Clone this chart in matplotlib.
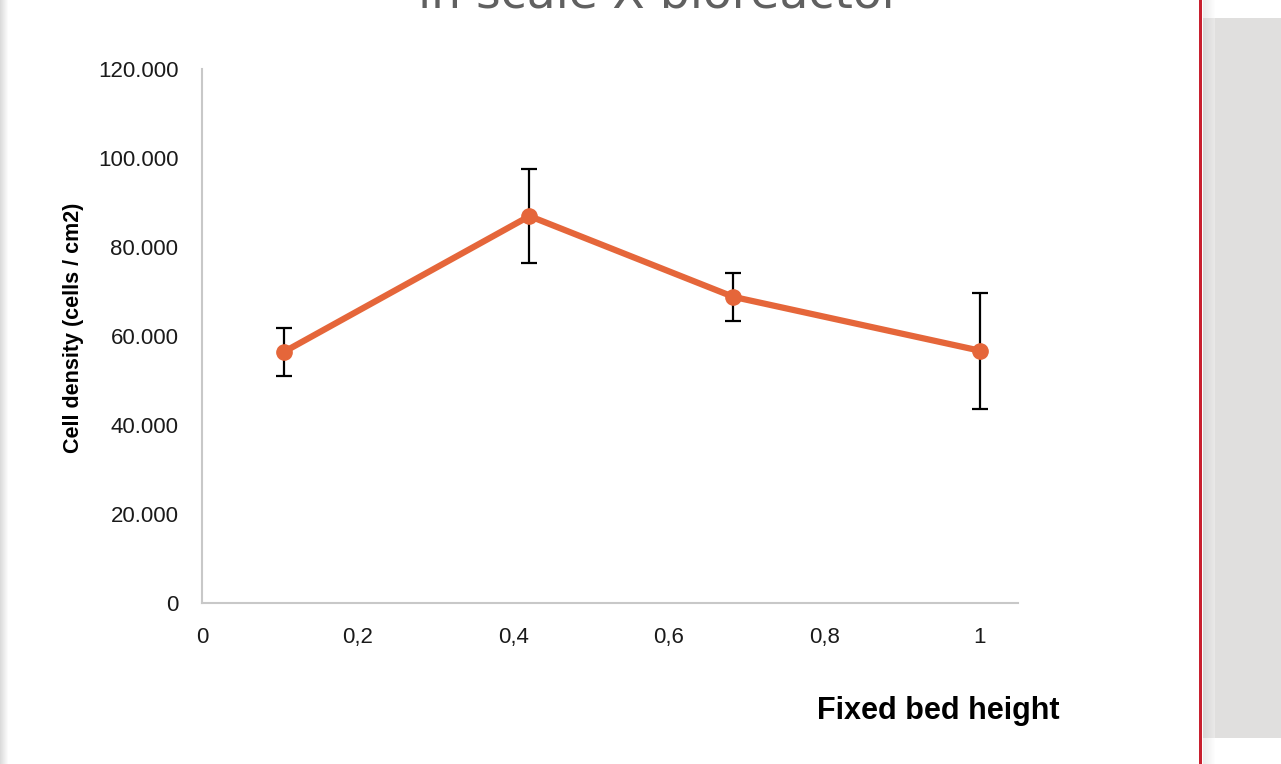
import numpy as np
import matplotlib.pyplot as plt
import matplotlib.ticker as mticker
from matplotlib.patches import Rectangle

# data
bed_height = [0.105, 0.421, 0.683, 1.0]
cell_density = [56400, 86950, 68800, 56700]
density_err = [5300, 10550, 5400, 13000]

y_ticks = [0, 20000, 40000, 60000, 80000, 100000, 120000]
x_ticks = [0, 0.2, 0.4, 0.6, 0.8, 1.0]

W, H = 1281, 764
fig = plt.figure(figsize=(W / 100, H / 100), dpi=100)
fig.patch.set_facecolor('white')

# page decoration: left shadow, red rule, grey side panel
for k in range(9):
    c = 0.86 + 0.14 * k / 8
    fig.patches.append(Rectangle((k / W, 0), 1 / W, 1, transform=fig.transFigure,
                                 facecolor=(c, c, c), edgecolor='none'))
fig.patches.append(Rectangle((1203 / W, 26 / H), (W - 1203) / W, (738 - 18) / H,
                             transform=fig.transFigure, facecolor='#e0dfde', edgecolor='none'))
for k in range(12):
    c = 0.78 + 0.2 * k / 11
    fig.patches.append(Rectangle(((1203 + k) / W, 0), 1 / W, 1, transform=fig.transFigure,
                                 facecolor=(c, c, c), edgecolor='none', alpha=0.35))
fig.patches.append(Rectangle((1198.5 / W, 0), 3.5 / W, 1, transform=fig.transFigure,
                             facecolor='#c8202f', edgecolor='none'))

# title, mostly cut off at the top (as in the source slide)
fig.text(660 / W, 1 - 8 / H, 'in scale-X bioreactor', ha='center', va='baseline',
         fontsize=34, color='#606060', family='DejaVu Sans')

ax = fig.add_axes([202 / W, 1 - 603 / H, (1018 - 202) / W, (603 - 69) / H])
ax.errorbar(bed_height, cell_density, yerr=density_err, color='#e5663a', lw=4.5,
            marker='o', ms=11, ecolor='black', elinewidth=1.6, capsize=6, capthick=1.6,
            zorder=3)

ax.set_xlim(0, 1.049)
ax.set_ylim(0, 120000)
ax.set_xticks(x_ticks)
ax.set_yticks(y_ticks)

tick_font = ['Liberation Sans Narrow', 'Liberation Sans', 'DejaVu Sans']
ax.xaxis.set_major_formatter(mticker.FuncFormatter(
    lambda v, p: ('%g' % v).replace('.', ',')))
ax.yaxis.set_major_formatter(mticker.FuncFormatter(
    lambda v, p: '0' if v == 0 else '{:,.3f}'.format(v / 1000).replace(',', '')))
for lab in ax.get_xticklabels() + ax.get_yticklabels():
    lab.set_family(tick_font)
    lab.set_fontsize(16)
    lab.set_color('#1a1a1a')
ax.tick_params(axis='both', length=0)
ax.tick_params(axis='x', pad=17)
ax.tick_params(axis='y', pad=17)

for s in ['top', 'right']:
    ax.spines[s].set_visible(False)
for s in ['left', 'bottom']:
    ax.spines[s].set_color('#c8c8c8')
    ax.spines[s].set_linewidth(1.5)

fig.text(74 / W, 1 - 328 / H, 'Cell density (cells / cm2)', rotation=90,
         ha='center', va='center', fontsize=15.5, fontweight='bold',
         family=['Liberation Sans', 'DejaVu Sans'])
fig.text(938 / W, 1 - 711 / H, 'Fixed bed height', ha='center', va='center',
         fontsize=22, fontweight='bold',
         family=['Liberation Sans Narrow', 'Liberation Sans', 'DejaVu Sans'])

fig.savefig('out.png', dpi=100)
